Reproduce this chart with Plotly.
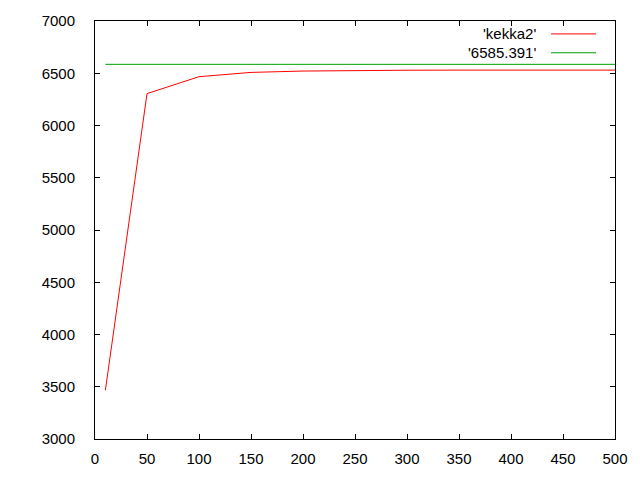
import plotly.graph_objects as go

x_vals = [10, 50, 100, 150, 200, 250, 300, 350, 400, 450, 500]
kekka2 = [3467, 6305, 6467, 6508, 6521, 6527, 6529, 6530, 6530, 6530, 6530]
ref_value = 6585.391
ref_x = [10, 500]
series_names = ["'kekka2'", "'6585.391'"]
x_ticks = [0, 50, 100, 150, 200, 250, 300, 350, 400, 450, 500]
y_ticks = [3000, 3500, 4000, 4500, 5000, 5500, 6000, 6500, 7000]

RED = "#ff0000"
GREEN = "#00a000"
FONT = "Liberation Sans"

fig = go.Figure()
fig.add_trace(go.Scatter(x=x_vals, y=kekka2, mode="lines",
                         line=dict(color=RED, width=1), name=series_names[0],
                         showlegend=False))
fig.add_trace(go.Scatter(x=ref_x, y=[ref_value, ref_value], mode="lines",
                         line=dict(color=GREEN, width=1), name=series_names[1],
                         showlegend=False))

axis_common = dict(showgrid=False, zeroline=False, showline=True, linecolor="black",
                   linewidth=1, mirror="ticks", ticks="inside", ticklen=5,
                   tickcolor="black", tickwidth=1,
                   tickfont=dict(family=FONT, size=15, color="black"))

fig.update_xaxes(range=[0, 500], tickvals=x_ticks, ticklabelstandoff=6, **axis_common)
fig.update_yaxes(range=[3000, 7000], tickvals=y_ticks, ticklabelstandoff=16, **axis_common)

# gnuplot-style key: right-aligned text with line sample to the right
legend_rows = [(series_names[0], RED, 31), (series_names[1], GREEN, 50)]
for name, color, ypix in legend_rows:
    yp = 1 - (ypix - 18) / (439 - 18)
    fig.add_annotation(xref="paper", yref="paper", x=(538 - 95) / 520, y=yp,
                       text=name, showarrow=False, xanchor="right", yanchor="middle",
                       font=dict(family=FONT, size=15, color="black"))
    fig.add_shape(type="line", xref="paper", yref="paper",
                  x0=(551 - 95) / 520, x1=(596 - 95) / 520, y0=yp, y1=yp,
                  line=dict(color=color, width=1))

fig.update_layout(width=640, height=480, margin=dict(l=95, r=25, t=18, b=41),
                  plot_bgcolor="white", paper_bgcolor="white",
                  font=dict(family=FONT, size=15, color="black"))

fig.write_html("out.html", config={"displayModeBar": False},
               post_script="document.body.style.margin='0px';document.body.style.overflow='hidden';")
